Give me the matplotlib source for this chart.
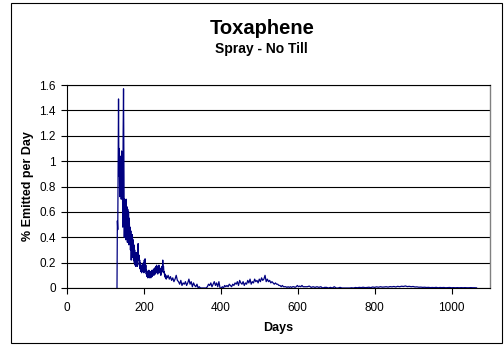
import matplotlib
matplotlib.use("Agg")
import matplotlib.pyplot as plt
from matplotlib.patches import Rectangle

plt.rcParams['font.family'] = ['Liberation Sans', 'DejaVu Sans']

# daily values, days 130-259
days_a = list(range(130, 260))
vals_a = [
    0.00, 0.53, 0.46, 0.98, 1.49, 0.88, 1.10, 0.72, 1.04, 0.80,
    0.96, 0.70, 1.08, 0.76, 0.95, 0.48, 1.22, 1.57, 0.92, 0.40,
    0.70, 0.42, 0.58, 0.38, 0.70, 0.44, 0.64, 0.36, 0.62, 0.42,
    0.60, 0.34, 0.55, 0.40, 0.48, 0.30, 0.45, 0.22, 0.40, 0.24,
    0.42, 0.26, 0.38, 0.22, 0.34, 0.20, 0.30, 0.18, 0.26, 0.17,
    0.28, 0.20, 0.24, 0.17, 0.30, 0.35, 0.22, 0.26, 0.18, 0.22,
    0.15, 0.20, 0.13, 0.18, 0.12, 0.16, 0.13, 0.19, 0.14, 0.20,
    0.12, 0.22, 0.15, 0.23, 0.13, 0.18, 0.11, 0.14, 0.09, 0.13,
    0.08, 0.12, 0.10, 0.14, 0.08, 0.11, 0.09, 0.13, 0.08, 0.12,
    0.10, 0.14, 0.09, 0.12, 0.11, 0.15, 0.10, 0.13, 0.12, 0.16,
    0.11, 0.17, 0.13, 0.18, 0.12, 0.15, 0.11, 0.17, 0.14, 0.18,
    0.12, 0.16, 0.13, 0.15, 0.10, 0.14, 0.12, 0.17, 0.13, 0.22,
    0.15, 0.17, 0.12, 0.13, 0.09, 0.11, 0.08, 0.10, 0.07, 0.09,
]

# every 3 days, days 260-620
days_b = list(range(260, 621, 3))
vals_b = [
    0.08, 0.10, 0.07, 0.09, 0.06, 0.08, 0.05, 0.07, 0.10, 0.06,
    0.05, 0.03, 0.06, 0.02, 0.04, 0.03, 0.05, 0.02, 0.04, 0.07,
    0.03, 0.05, 0.01, 0.04, 0.02, 0.01, 0.03, 0.00, 0.01, 0.00,
    0.00, 0.00, 0.00, 0.00, 0.00, 0.01, 0.03, 0.02, 0.04, 0.01,
    0.03, 0.05, 0.02, 0.04, 0.01, 0.05, 0.00, 0.00, 0.01, 0.00,
    0.02, 0.01, 0.02, 0.01, 0.03, 0.02, 0.01, 0.03, 0.02, 0.04,
    0.03, 0.05, 0.02, 0.06, 0.04, 0.03, 0.05, 0.02, 0.04, 0.03,
    0.06, 0.04, 0.07, 0.03, 0.05, 0.04, 0.07, 0.05, 0.06, 0.04,
    0.07, 0.05, 0.08, 0.06, 0.07, 0.10, 0.05, 0.07, 0.05, 0.06,
    0.04, 0.05, 0.04, 0.03, 0.04, 0.03, 0.03, 0.02, 0.02, 0.01,
    0.02, 0.01, 0.01, 0.01, 0.005, 0.01, 0.005, 0.01, 0.005, 0.01,
    0.01, 0.005, 0.01, 0.02, 0.01, 0.015, 0.01, 0.02, 0.01, 0.01,
    0.01,
]

# every 5 days, days 625-1065
days_c = list(range(625, 1066, 5))
vals_c = [
    0.01, 0.015, 0.005, 0.01, 0.005, 0.01, 0.005, 0.01, 0.0, 0.005,
    0.005, 0.0, 0.005, 0.0, 0.01, 0.0, 0.0, 0.005, 0.0, 0.0,
    0.0, 0.0, 0.0, 0.002, 0.0, 0.004, 0.002, 0.005, 0.003, 0.006,
    0.003, 0.004, 0.006, 0.003, 0.008, 0.005, 0.009, 0.006, 0.01, 0.007,
    0.008, 0.01, 0.007, 0.011, 0.009, 0.012, 0.008, 0.013, 0.01, 0.014,
    0.012, 0.016, 0.011, 0.013, 0.01, 0.012, 0.008, 0.009, 0.006, 0.007,
    0.005, 0.006, 0.004, 0.005, 0.003, 0.004, 0.003, 0.005, 0.002, 0.004,
    0.003, 0.004, 0.002, 0.003, 0.004, 0.002, 0.003, 0.002, 0.003, 0.002,
    0.003, 0.002, 0.003, 0.002, 0.002, 0.003, 0.002, 0.002, 0.001,
]

x_ticks = [0, 200, 400, 600, 800, 1000]
y_ticks = [0, 0.2, 0.4, 0.6, 0.8, 1, 1.2, 1.4, 1.6]
y_tick_labels = ['0', '0.2', '0.4', '0.6', '0.8', '1', '1.2', '1.4', '1.6']


def plot():
    fig = plt.figure(figsize=(5.04, 3.45), dpi=100)
    ax = fig.add_axes([67 / 504, 1 - 288 / 345, 423 / 504, 203 / 345])

    # outer chart border
    fig.patches.append(Rectangle((11 / 504, 2 / 345), 491 / 504, 340 / 345,
                                 transform=fig.transFigure, fill=False,
                                 edgecolor='black', linewidth=0.8))

    days = days_a + days_b + days_c
    vals = vals_a + vals_b + vals_c
    ax.plot(days, vals, color='#000080', linewidth=0.9, zorder=3)

    ax.set_xlim(0, 1100)
    ax.set_ylim(0, 1.6)
    ax.set_xticks(x_ticks)
    ax.set_xticklabels([str(t) for t in x_ticks])
    ax.set_yticks(y_ticks)
    ax.set_yticklabels(y_tick_labels)
    ax.tick_params(direction='out', length=4, width=0.8, labelsize=8.5)
    ax.tick_params(axis='x', pad=6)
    ax.tick_params(axis='y', pad=4)

    ax.grid(axis='y', color='black', linewidth=0.8)
    ax.set_axisbelow(True)
    for s in ['left', 'bottom', 'top']:
        ax.spines[s].set_color('black')
        ax.spines[s].set_linewidth(0.8)
    ax.spines['right'].set_color('#808080')
    ax.spines['right'].set_linewidth(1.0)

    ax.set_xlabel('Days', fontsize=9, fontweight='bold', labelpad=6)
    ax.set_ylabel('% Emitted per Day', fontsize=9, fontweight='bold', labelpad=4)

    fig.text(262 / 504, 1 - 28 / 345, 'Toxaphene', fontsize=14.5,
             fontweight='bold', ha='center', va='center')
    fig.text(261 / 504, 1 - 49 / 345, 'Spray - No Till', fontsize=10,
             fontweight='bold', ha='center', va='center')

    fig.savefig('out.png', dpi=100)


def main():
    plot()


if __name__ == '__main__':
    main()
